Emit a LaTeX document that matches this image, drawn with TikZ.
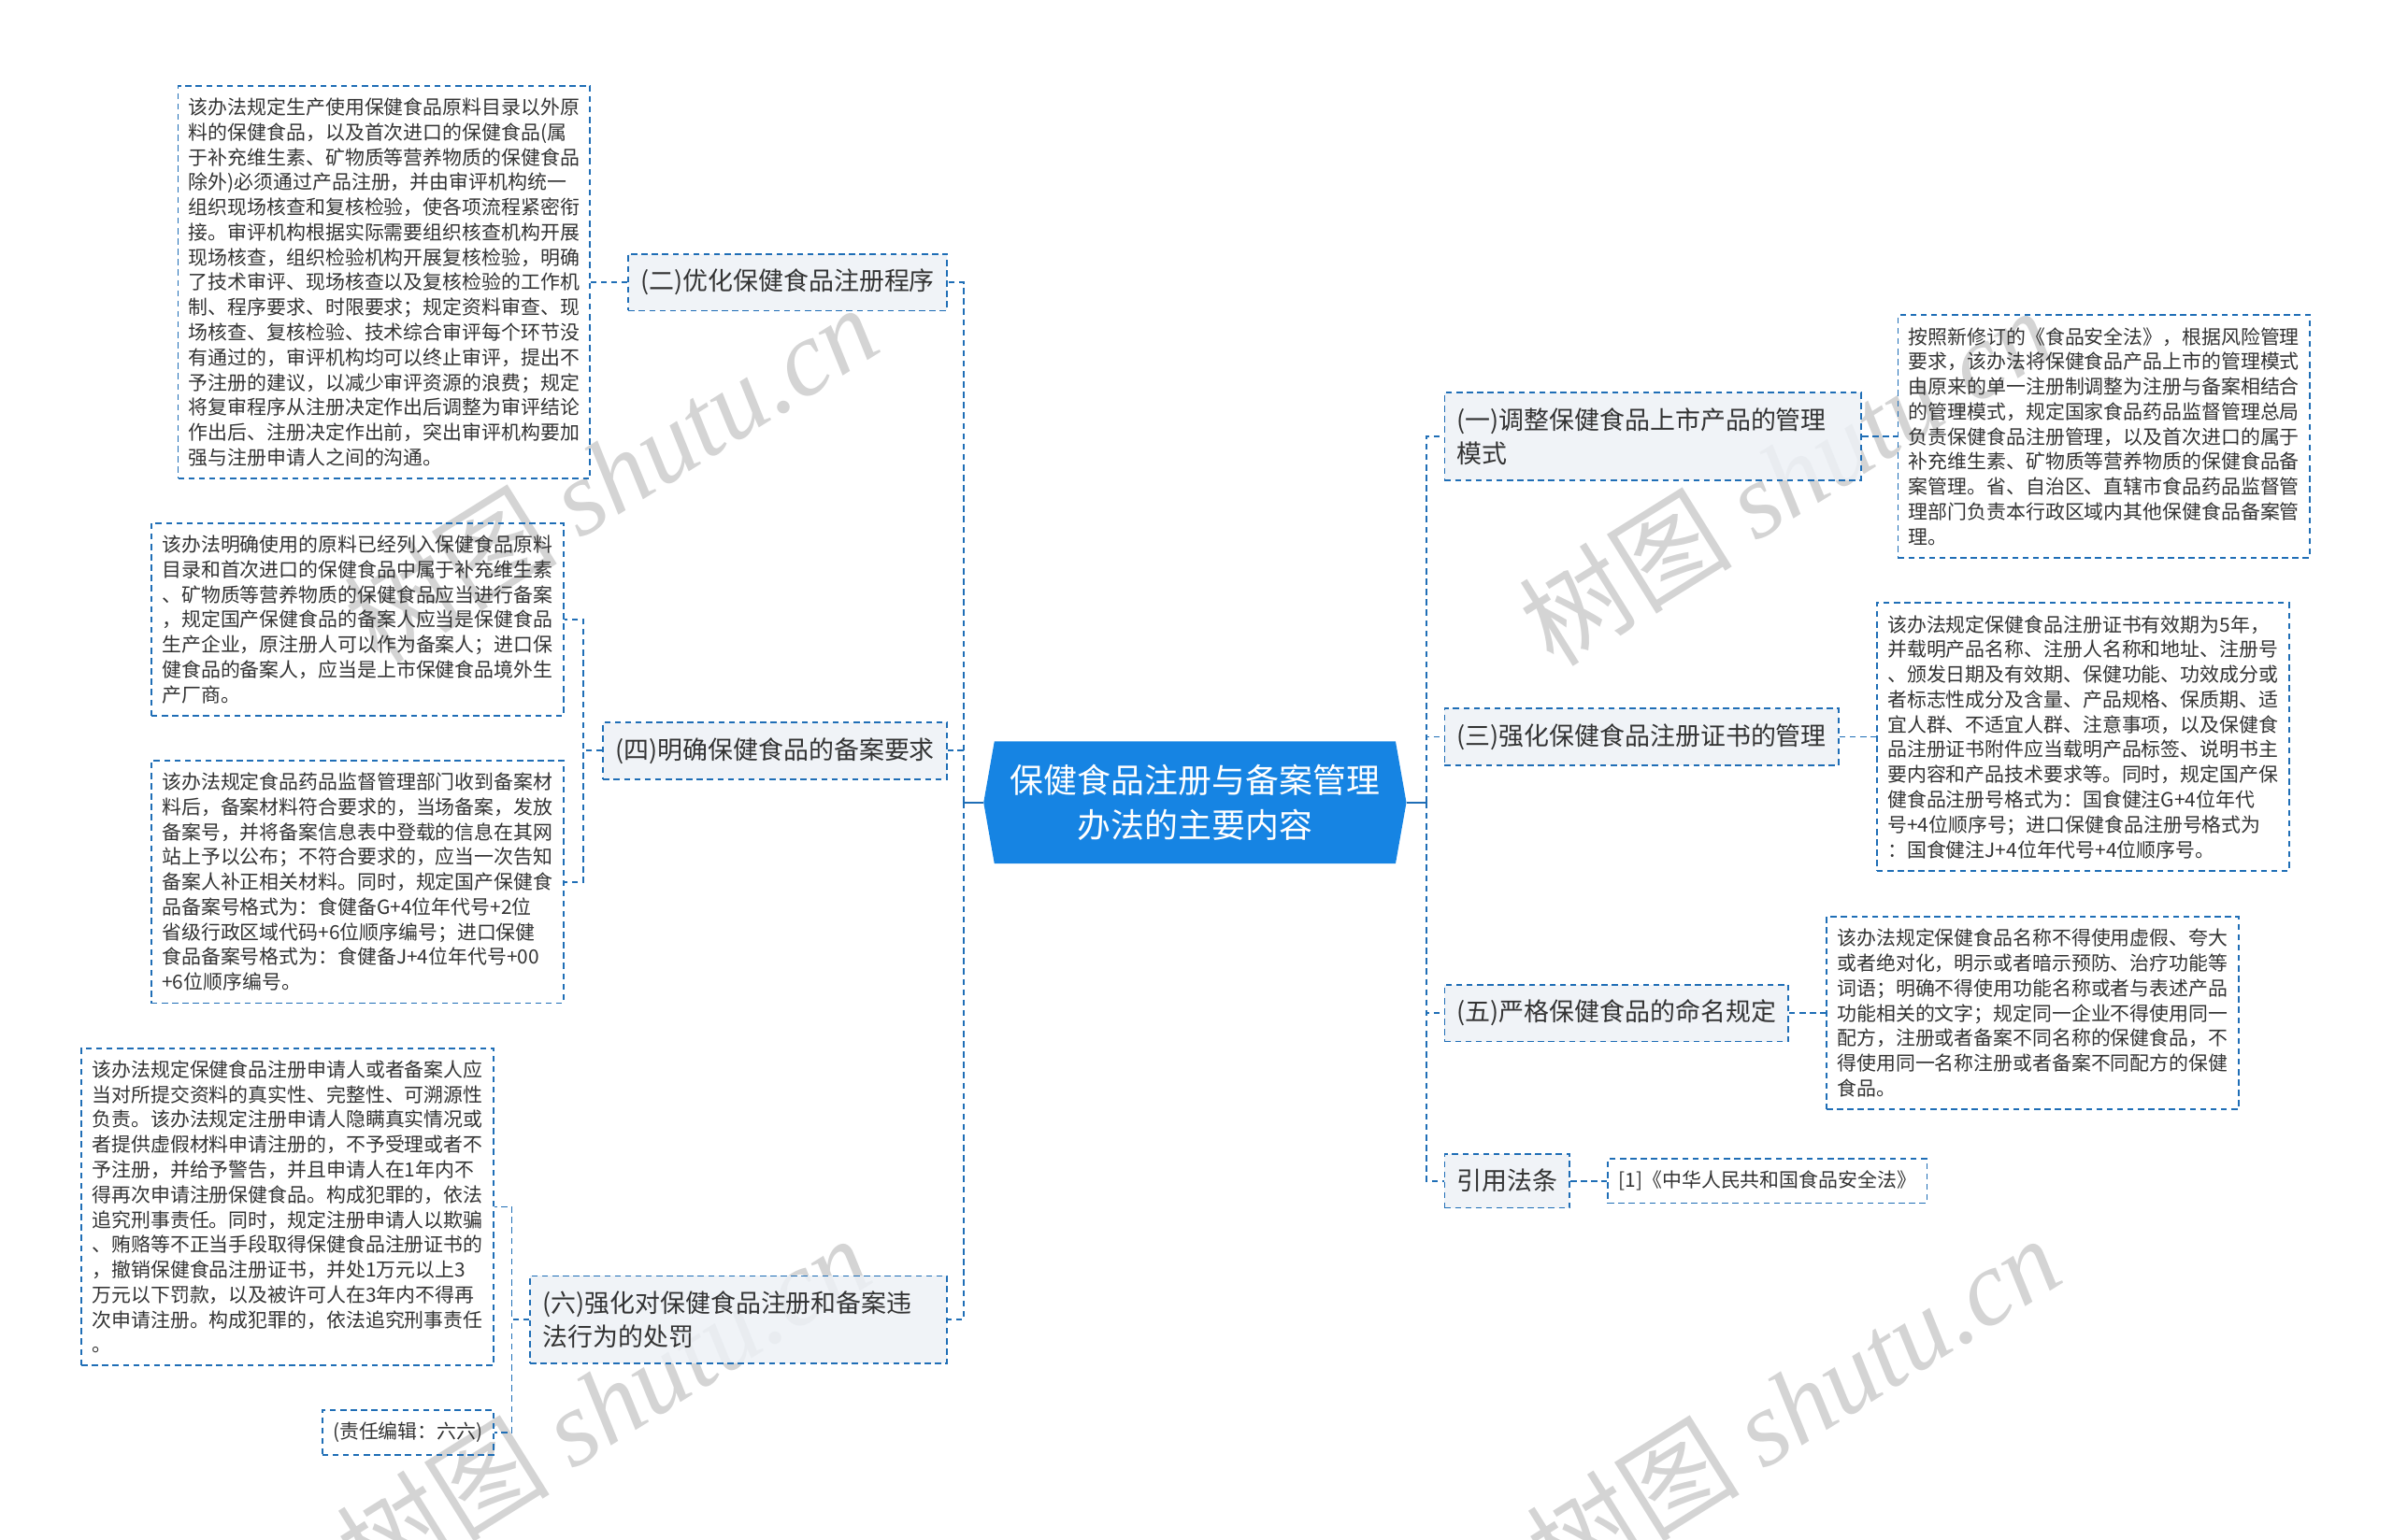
\documentclass[tikz,border=0pt]{standalone}
\usepackage{fontspec}
\setmainfont{Noto Sans CJK SC}
\newfontfamily\markfont{Liberation Serif}
\usetikzlibrary{positioning,shapes.symbols}
\definecolor{linkblue}{HTML}{1F6EB6}
\definecolor{hubblue}{HTML}{1684E3}
\definecolor{branchgray}{HTML}{EDF1F6}
\definecolor{inkgray}{HTML}{333333}
\definecolor{markgray}{HTML}{D4D4D4}

\begin{document}
\begin{tikzpicture}[x=1pt,y=-1pt,
hexnode/.style={signal, signal to=east and west, signal pointer angle=160, fill=hubblue, text=white, align=center, minimum width=277pt, minimum height=80pt, inner sep=0pt, font=\fontsize{22}{30}\selectfont},
branchnode/.style={rectangle, draw=linkblue, line width=1.1pt, dash pattern=on 4pt off 2.8pt, fill=branchgray, fill opacity=0.85, text opacity=1, text=inkgray, align=left, inner xsep=8pt, inner ysep=10pt, font=\fontsize{16.5}{22}\selectfont},
leafnode/.style={rectangle, draw=linkblue, line width=1.1pt, dash pattern=on 4pt off 2.8pt, text=inkgray, align=left, inner xsep=7pt, inner ysep=8pt, font=\fontsize{12.8}{16.4}\selectfont},
link/.style={draw=linkblue, line width=1.1pt, dash pattern=on 4pt off 2.8pt},
watermark/.style={text=markgray, rotate=32, font=\fontsize{70}{70}\selectfont},
]
\useasboundingbox (0,0) rectangle (1568,1009);

%Watermarks
\node[watermark] (MarkA) at (400,310) {树图 {\markfont\itshape shutu.cn}};
\node[watermark] (MarkB) at (1170,312) {树图 {\markfont\itshape shutu.cn}};
\node[watermark] (MarkC) at (395,920) {树图 {\markfont\itshape shutu.cn}};
\node[watermark] (MarkD) at (1175,920) {树图 {\markfont\itshape shutu.cn}};

%Nodes
\node[hexnode] (Hub) at (783,526) {保健食品注册与备案管理\\办法的主要内容};

\node[branchnode, anchor=east] (Procedure) at (621,185) {(二)优化保健食品注册程序};
\node[branchnode, anchor=east] (Filing) at (621,492) {(四)明确保健食品的备案要求};
\node[branchnode, anchor=east, text width=257pt] (Penalty) at (621,865) {(六)强化对保健食品注册和备案违\\法行为的处罚};

\node[branchnode, anchor=west, text width=257pt] (Mode) at (946,286) {(一)调整保健食品上市产品的管理\\模式};
\node[branchnode, anchor=west] (Certificate) at (946,483) {(三)强化保健食品注册证书的管理};
\node[branchnode, anchor=west] (Naming) at (946,664) {(五)严格保健食品的命名规定};
\node[branchnode, anchor=west] (Citation) at (946,774) {引用法条};

\node[leafnode](ProcedureText)[left=24pt of Procedure]{该办法规定生产使用保健食品原料目录以外原\\料的保健食品，以及首次进口的保健食品(属\\于补充维生素、矿物质等营养物质的保健食品\\除外)必须通过产品注册，并由审评机构统一\\组织现场核查和复核检验，使各项流程紧密衔\\接。审评机构根据实际需要组织核查机构开展\\现场核查，组织检验机构开展复核检验，明确\\了技术审评、现场核查以及复核检验的工作机\\制、程序要求、时限要求；规定资料审查、现\\场核查、复核检验、技术综合审评每个环节没\\有通过的，审评机构均可以终止审评，提出不\\予注册的建议，以减少审评资源的浪费；规定\\将复审程序从注册决定作出后调整为审评结论\\作出后、注册决定作出前，突出审评机构要加\\强与注册申请人之间的沟通。};

\node[leafnode, anchor=east] (FilingTextA) at ([xshift=-25pt,yshift=86pt]Filing.west) {该办法明确使用的原料已经列入保健食品原料\\目录和首次进口的保健食品中属于补充维生素\\、矿物质等营养物质的保健食品应当进行备案\\，规定国产保健食品的备案人应当是保健食品\\生产企业，原注册人可以作为备案人；进口保\\健食品的备案人，应当是上市保健食品境外生\\产厂商。};
\node[leafnode, anchor=east] (FilingTextB) at ([xshift=-25pt,yshift=-86pt]Filing.west) {该办法规定食品药品监督管理部门收到备案材\\料后，备案材料符合要求的，当场备案，发放\\备案号，并将备案信息表中登载的信息在其网\\站上予以公布；不符合要求的，应当一次告知\\备案人补正相关材料。同时，规定国产保健食\\品备案号格式为：食健备G+4位年代号+2位\\省级行政区域代码+6位顺序编号；进口保健\\食品备案号格式为：食健备J+4位年代号+00\\+6位顺序编号。};

\node[leafnode, anchor=east] (PenaltyText) at ([xshift=-23pt,yshift=74pt]Penalty.west) {该办法规定保健食品注册申请人或者备案人应\\当对所提交资料的真实性、完整性、可溯源性\\负责。该办法规定注册申请人隐瞒真实情况或\\者提供虚假材料申请注册的，不予受理或者不\\予注册，并给予警告，并且申请人在1年内不\\得再次申请注册保健食品。构成犯罪的，依法\\追究刑事责任。同时，规定注册申请人以欺骗\\、贿赂等不正当手段取得保健食品注册证书的\\，撤销保健食品注册证书，并处1万元以上3\\万元以下罚款，以及被许可人在3年内不得再\\次申请注册。构成犯罪的，依法追究刑事责任\\。};
\node[leafnode, anchor=east] (Editor) at ([xshift=-23pt,yshift=-74pt]Penalty.west) {(责任编辑：六六)};

\node[leafnode](ModeText)[right=23pt of Mode]{按照新修订的《食品安全法》，根据风险管理\\要求，该办法将保健食品产品上市的管理模式\\由原来的单一注册制调整为注册与备案相结合\\的管理模式，规定国家食品药品监督管理总局\\负责保健食品注册管理，以及首次进口的属于\\补充维生素、矿物质等营养物质的保健食品备\\案管理。省、自治区、直辖市食品药品监督管\\理部门负责本行政区域内其他保健食品备案管\\理。};
\node[leafnode](CertificateText)[right=24pt of Certificate]{该办法规定保健食品注册证书有效期为5年，\\并载明产品名称、注册人名称和地址、注册号\\、颁发日期及有效期、保健功能、功效成分或\\者标志性成分及含量、产品规格、保质期、适\\宜人群、不适宜人群、注意事项，以及保健食\\品注册证书附件应当载明产品标签、说明书主\\要内容和产品技术要求等。同时，规定国产保\\健食品注册号格式为：国食健注G+4位年代\\号+4位顺序号；进口保健食品注册号格式为\\：国食健注J+4位年代号+4位顺序号。};
\node[leafnode](NamingText)[right=24pt of Naming]{该办法规定保健食品名称不得使用虚假、夸大\\或者绝对化，明示或者暗示预防、治疗功能等\\词语；明确不得使用功能名称或者与表述产品\\功能相关的文字；规定同一企业不得使用同一\\配方，注册或者备案不同名称的保健食品，不\\得使用同一名称注册或者备案不同配方的保健\\食品。};
\node[leafnode](CitationText)[right=24pt of Citation]{[1]《中华人民共和国食品安全法》};

%Lines
\coordinate (LeftTrunk) at ([xshift=-13pt]Hub.west);
\coordinate (RightTrunk) at ([xshift=13pt]Hub.east);
\draw[linkblue, line width=1.1pt] (Hub.west) -- (LeftTrunk);
\draw[linkblue, line width=1.1pt] (Hub.east) -- (RightTrunk);
\foreach \b in {Procedure,Filing,Penalty} \draw[link] (LeftTrunk) |- (\b.east);
\foreach \b in {Mode,Certificate,Naming,Citation} \draw[link] (RightTrunk) |- (\b.west);

\draw[link] (Procedure.west) -- (ProcedureText.east);
\draw[link] (Filing.west) -- ++(-12.5pt,0) |- (FilingTextA.east);
\draw[link] (Filing.west) -- ++(-12.5pt,0) |- (FilingTextB.east);
\draw[link] (Penalty.west) -- ++(-11.5pt,0) |- (PenaltyText.east);
\draw[link] (Penalty.west) -- ++(-11.5pt,0) |- (Editor.east);

\draw[link] (Mode.east) -- (ModeText.west);
\draw[link] (Certificate.east) -- (CertificateText.west);
\draw[link] (Naming.east) -- (NamingText.west);
\draw[link] (Citation.east) -- (CitationText.west);
\end{tikzpicture}
\end{document}
